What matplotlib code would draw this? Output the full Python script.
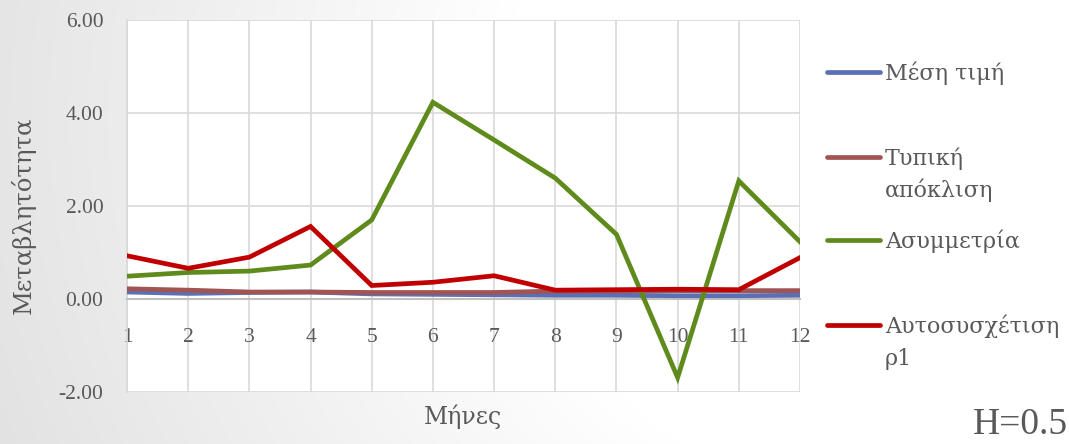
import numpy as np
import matplotlib
matplotlib.use("Agg")
import matplotlib.pyplot as plt
from matplotlib.lines import Line2D

# Monthly statistics for H=0.5
months = list(range(1, 13))
mean_vals = [0.15, 0.12, 0.14, 0.15, 0.11, 0.10, 0.09, 0.08, 0.08, 0.07, 0.07, 0.08]
std_vals = [0.22, 0.19, 0.15, 0.15, 0.14, 0.14, 0.14, 0.17, 0.17, 0.18, 0.18, 0.18]
skew_vals = [0.49, 0.57, 0.60, 0.73, 1.70, 4.23, 3.42, 2.60, 1.39, -1.69, 2.54, 1.23]
acf_vals = [0.93, 0.66, 0.90, 1.56, 0.29, 0.36, 0.50, 0.19, 0.20, 0.21, 0.20, 0.89]

series_names = [["Μέση τιμή"], ["Τυπική", "απόκλιση"], ["Ασυμμετρία"], ["Αυτοσυσχέτιση", "ρ1"]]
series_colors = ["#5A6FB4", "#A05454", "#5F8B1C", "#C00000"]
y_ticks = [-2, 0, 2, 4, 6]

W, H = 1069, 444
plt.rcParams["font.family"] = ["Liberation Serif", "DejaVu Serif"]
greek_font = ["DejaVu Serif"]
text_color = "#595959"

fig = plt.figure(figsize=(W / 100, H / 100), dpi=100)

# soft grey-to-white background
bg = fig.add_axes([0, 0, 1, 1], zorder=-10)
yy, xx = np.mgrid[0:H, 0:W]
d = np.sqrt(((xx - 950) / 1.0) ** 2 + ((yy - 120) / 0.9) ** 2)
shade = np.clip((d - 450) / 600, 0, 1)
val = 1.0 - 0.12 * shade
bg.imshow(np.dstack([val, val, val]), extent=[0, 1, 0, 1], aspect="auto", origin="upper")
bg.set_axis_off()

left, right, top, bottom = 127, 800, 20, 392
ax = fig.add_axes([left / W, 1 - bottom / H, (right - left) / W, (bottom - top) / H])
ax.set_facecolor("white")

data = [mean_vals, std_vals, skew_vals, acf_vals]
for vals, col in zip(data, series_colors):
    ax.plot(months, vals, color=col, lw=3.4, solid_joinstyle="miter", zorder=3)

ax.set_xlim(1, 12)
ax.set_ylim(-2, 6)
ax.set_xticks(months)
ax.set_yticks(y_ticks)
ax.set_yticklabels([f"{v:.2f}" for v in y_ticks])
ax.grid(True, color="#D9D9D9", lw=1.2, zorder=0)
ax.set_axisbelow(True)
for s in ["top", "right"]:
    ax.spines[s].set_visible(False)
ax.spines["left"].set_color("#D9D9D9")
ax.spines["left"].set_linewidth(1.2)
ax.spines["bottom"].set_position(("data", 0))
ax.spines["bottom"].set_color("#BFBFBF")
ax.spines["bottom"].set_linewidth(1.5)
ax.tick_params(axis="x", length=0, pad=21, labelsize=15.5, labelcolor=text_color)
ax.tick_params(axis="y", length=0, pad=17, labelsize=15.5, labelcolor=text_color)

fig.text(23 / W, 1 - 215 / H, "Μεταβλητότητα", rotation=90, ha="center", va="center",
         fontsize=17.5, color=text_color, family=greek_font)
fig.text(463 / W, 1 - 417 / H, "Μήνες", ha="center", va="center",
         fontsize=17, color=text_color, family=greek_font)

# legend drawn on the right
legend_y = [72, 157, 240, 325]
for lines, col, ly in zip(series_names, series_colors, legend_y):
    fig.add_artist(Line2D([827 / W, 880 / W], [1 - ly / H, 1 - ly / H], color=col,
                          lw=3.4, solid_capstyle="round"))
    for i, line in enumerate(lines):
        fig.text(885 / W, 1 - (ly + 8 + 32 * i) / H, line, ha="left", va="baseline",
                 fontsize=16, color=text_color, family=greek_font)

fig.text(973 / W, 1 - 425 / H, "H=0.5", ha="left", va="center", fontsize=27,
         color=text_color)

fig.savefig("out.png", dpi=100)
